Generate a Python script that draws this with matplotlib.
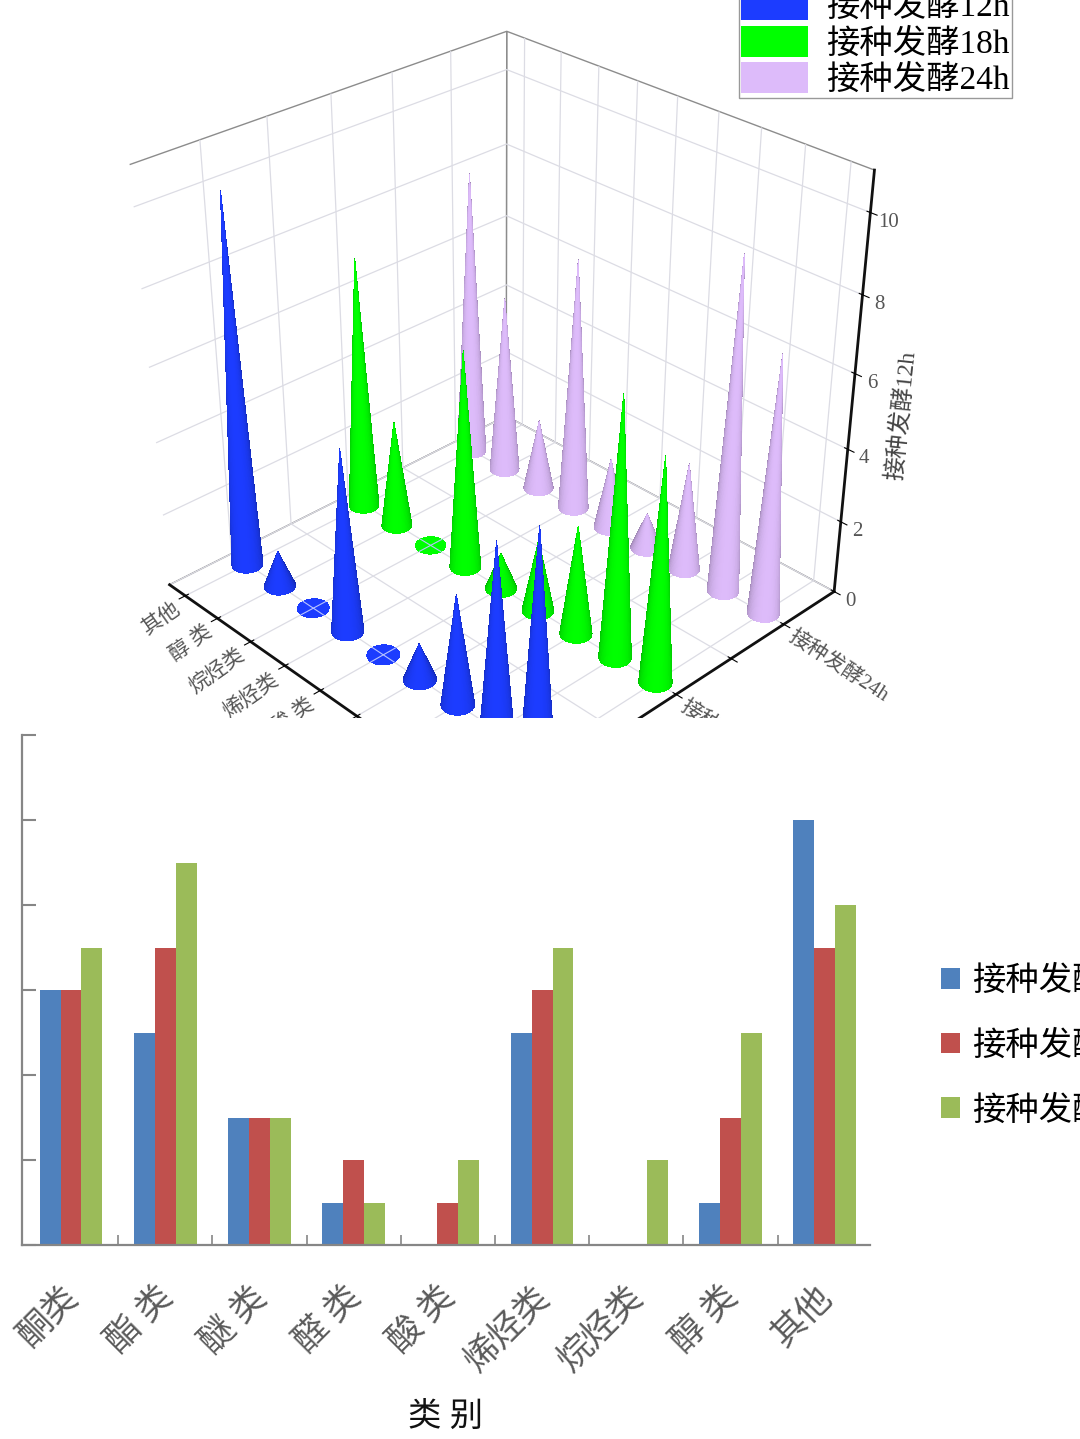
import numpy as np
import matplotlib
matplotlib.use('Agg')
import matplotlib.pyplot as plt
from matplotlib.colors import to_rgb
from matplotlib.font_manager import FontProperties
from matplotlib.patches import Patch, Rectangle

FAMILIES = ['Liberation Serif', 'Noto Sans CJK SC']
plt.rcParams['font.family'] = FAMILIES

# data
categories = ['酮类', '酯 类', '醚 类', '醛 类', '酸 类', '烯烃类', '烷烃类', '醇 类', '其他']
values12h = [6, 5, 3, 1, 0, 5, 0, 1, 10]
values18h = [6, 7, 3, 2, 1, 6, 0, 3, 7]
values24h = [7, 9, 3, 1, 2, 7, 2, 5, 8]
series_names = ['接种发酵12h', '接种发酵18h', '接种发酵24h']
series_ticks = [0, 0.5, 1, 1.5, 2]
series_ticklabels = ['接种发酵12h', '', '接种发酵18h', '', '接种发酵24h']
z_ticks = [0, 2, 4, 6, 8, 10]
bar_ticks = [0, 2, 4, 6, 8, 10, 12]

cone_colors = ['#1C3CFF', '#00FF00', '#DDBBFA']
bar_colors = ['#4F81BD', '#C0504D', '#9BBB59']
GRAY = '#868686'

W, H = 1080, 1439
fig = plt.figure(figsize=(W / 100, H / 100), dpi=100)

#---- top panel: cones
ax3 = fig.add_axes([-0.0472, 0.4108, 1.0, 0.62], projection='3d', computed_zorder=False)
ax3.set_zorder(0)
ax3.patch.set_alpha(0)
ax3.set_proj_type('persp', focal_length=0.45)
ax3.view_init(elev=30.5, azim=-134)
ax3.set_box_aspect((1, 1, 0.98), zoom=0.93)
ax3.set_xlim(-0.5, 2.5, view_margin=0)
ax3.set_ylim(-0.5, 8.5, view_margin=0)
ax3.set_zlim(0, 11, view_margin=0)

theta = np.linspace(0, 2 * np.pi, 91)
frac = np.linspace(0, 1, 2)
TH, FR = np.meshgrid(theta, frac)
mid = (theta[:-1] + theta[1:]) / 2
facing = np.clip(np.cos(mid - np.radians(225)), 0, 1) ** 0.7

for s, vals in enumerate([values12h, values18h, values24h]):
	base = np.array(to_rgb(cone_colors[s]))
	for c, v in enumerate(vals):
		X = s + 0.10 * (1 - FR) * np.cos(TH)
		Y = c + 0.30 * (1 - FR) * np.sin(TH)
		Z = v * FR
		shade = 0.72 + 0.28 * facing if v > 0 else np.ones_like(facing)
		colors = np.outer(shade, base)[np.newaxis, :, :]
		ax3.plot_surface(X, Y, Z, facecolors=colors, shade=False, rstride=1, cstride=1,
			linewidth=0, antialiased=False, zorder=100 - (3 * s + c))
		if v == 0:
			# floor grid shows through the flat discs
			ax3.plot([s - 0.10, s + 0.10], [c, c], [0, 0], color='#b9c4ff', lw=0.8, zorder=101 - (3 * s + c))
			ax3.plot([s, s], [c - 0.30, c + 0.30], [0, 0], color='#b9c4ff', lw=0.8, zorder=101 - (3 * s + c))

ax3.set_xticks(series_ticks, series_ticklabels, fontsize=15, color='#555555', rotation=-33,
	ha='left', va='center', rotation_mode='anchor')
ax3.set_yticks(range(len(categories)), categories, fontsize=15, color='#555555', rotation=35,
	ha='right', va='center', rotation_mode='anchor')
ax3.set_zticks(z_ticks)
ax3.tick_params(axis='x', pad=-2)
ax3.tick_params(axis='y', pad=-1)
ax3.tick_params(axis='z', labelsize=15, labelcolor='#555555', pad=0)
ax3.zaxis.set_ticks_position('lower')

for axis in [ax3.xaxis, ax3.yaxis, ax3.zaxis]:
	axis.set_pane_color((1, 1, 1, 1))
	axis.pane.set_edgecolor('#8c8c8c')
	axis.line.set_color('#111111')
	axis.line.set_linewidth(2)
	axis._axinfo['grid']['color'] = '#dcdce4'
	axis._axinfo['grid']['linewidth'] = 0.9
	axis._axinfo['tick']['color'] = '#111111'

fig.text(902 / W, 1 - 415 / H, '接种发酵12h', fontsize=17, color='#444444', rotation=84,
	ha='center', va='center', rotation_mode='anchor', zorder=1.5)

fp_top = FontProperties(family=FAMILIES, size=24)
handles_top = [Patch(facecolor=c, edgecolor='none') for c in cone_colors]
leg_top = fig.legend(handles_top, series_names, loc='lower left',
	bbox_to_anchor=(739 / W, 1 - 98 / H), bbox_transform=fig.transFigure, prop=fp_top,
	frameon=True, fancybox=False, edgecolor='#999999', framealpha=1, labelspacing=0.08,
	handlelength=2.0, handleheight=1.05, handletextpad=0.55, borderpad=0.06, borderaxespad=0)
leg_top.set_zorder(1.5)

# blank band between the two crops
fig.add_artist(Rectangle((0, 0), 1, 1 - 718 / H, transform=fig.transFigure,
	facecolor='white', edgecolor='none', zorder=1))

#---- bottom panel: grouped bars
ax = fig.add_axes([22 / W, 1 - 1245 / H, 848 / W, 510 / H])
ax.set_zorder(2)
ax.patch.set_alpha(0)
pos = np.arange(len(categories))
width = 0.222
for s, vals in enumerate([values12h, values18h, values24h]):
	ax.bar(pos + (s - 1) * width, vals, width, color=bar_colors[s], label=series_names[s])

ax.set_xlim(-0.52, 8.48)
ax.set_ylim(0, 12)
ax.set_yticks(bar_ticks)
ax.set_yticklabels([])
ax.tick_params(axis='y', direction='in', length=10, width=1.5, color=GRAY)
ax.set_xticks(pos[:-1] + 0.5)
ax.set_xticklabels([])
ax.tick_params(axis='x', direction='in', length=7, width=1.2, color=GRAY)
for side in ['top', 'right']:
	ax.spines[side].set_visible(False)
for side in ['left', 'bottom']:
	ax.spines[side].set_color(GRAY)
	ax.spines[side].set_linewidth(1.6)

for p, name in zip(pos, categories):
	ax.annotate(name, (p, 0), xytext=(-6.5, -26), textcoords='offset points', fontsize=25,
		color='#5a5a5a', rotation=45, ha='right', va='top', rotation_mode='anchor',
		annotation_clip=False)

ax.text(0.5, -0.3385, '类 别', transform=ax.transAxes, fontsize=24, color='#111111',
	ha='center', va='center')

fp_bot = FontProperties(family=FAMILIES, size=24)
handles_bot = [Patch(facecolor=c, edgecolor='none') for c in bar_colors]
fig.legend(handles_bot, series_names, loc='upper left', bbox_to_anchor=(941 / W, 1 - 966 / H),
	bbox_transform=fig.transFigure, prop=fp_bot, frameon=False, labelspacing=1.0,
	handlelength=0.58, handleheight=0.58, handletextpad=0.34, borderpad=0, borderaxespad=0)

fig.savefig('out.png', dpi=100)
